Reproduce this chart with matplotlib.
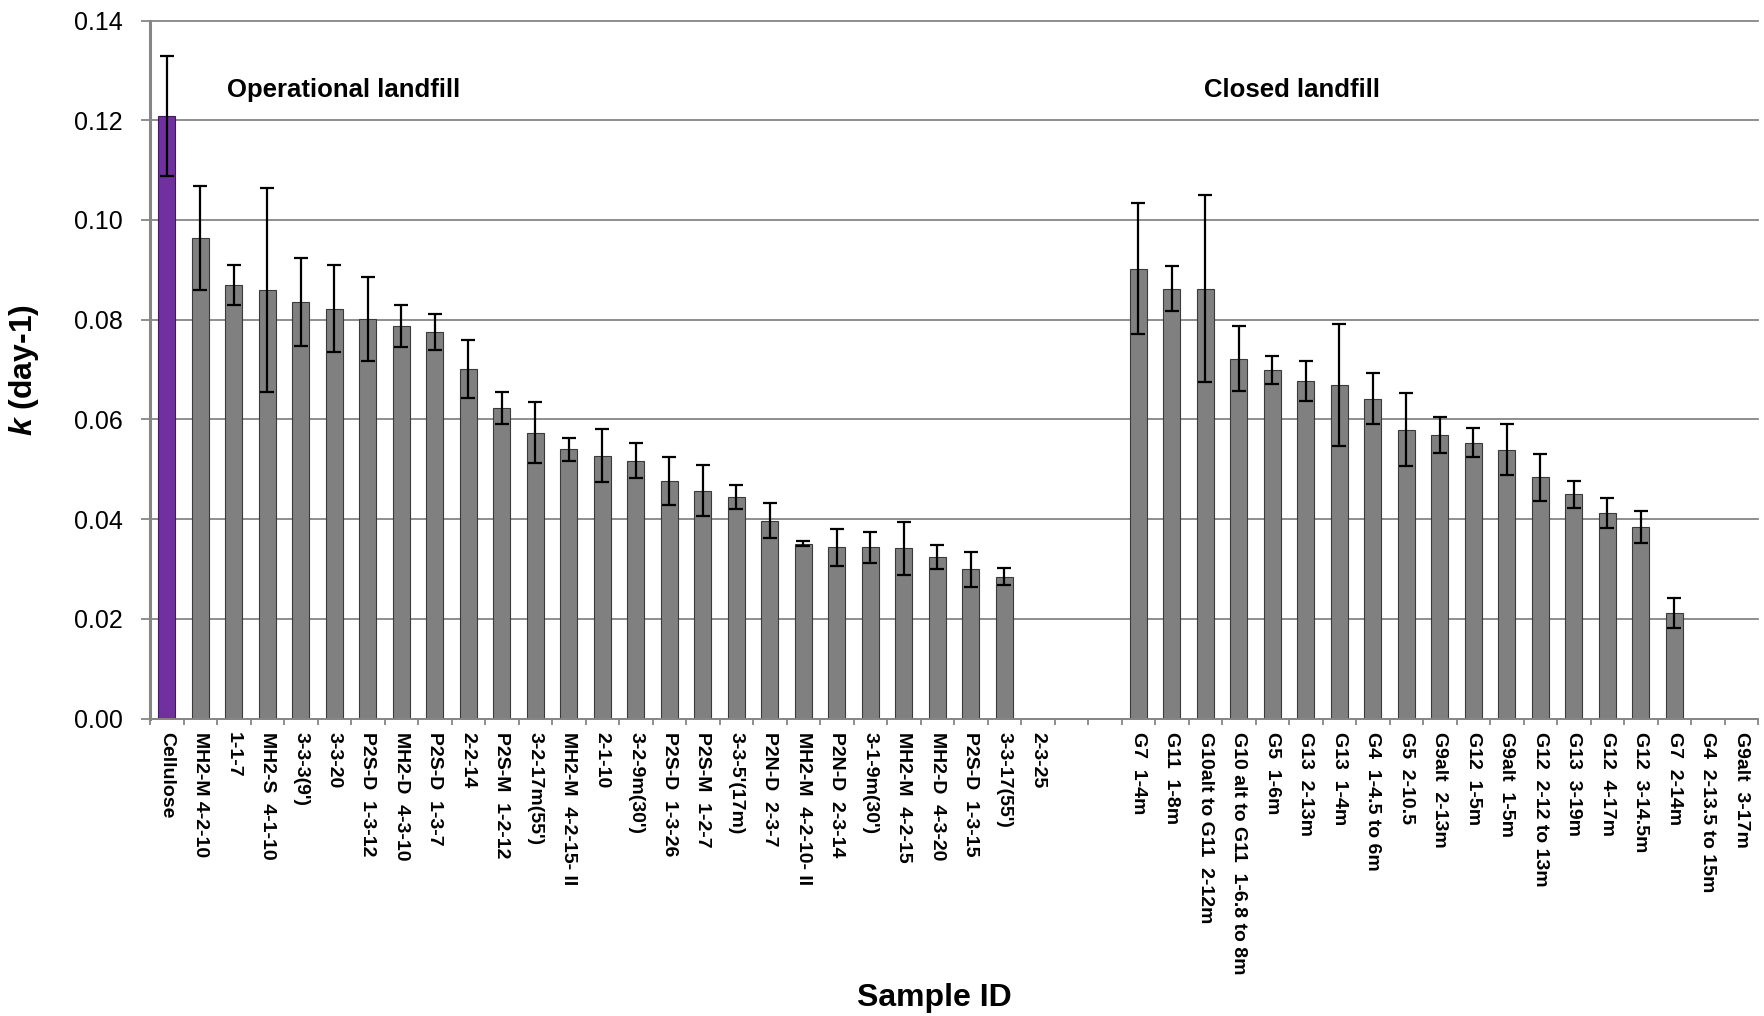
import numpy as np
import matplotlib
matplotlib.use('Agg')
import matplotlib.pyplot as plt

# fonts: Liberation Sans stands in for Calibri
plt.rcParams['font.family'] = ['Liberation Sans', 'DejaVu Sans']
plt.rcParams['mathtext.fontset'] = 'custom'
plt.rcParams['mathtext.it'] = 'Liberation Sans:italic:bold'
plt.rcParams['mathtext.rm'] = 'Liberation Sans:bold'

# operational landfill samples (first one is the cellulose control)
ops_labels = ['Cellulose', 'MH2-M 4-2-10', '1-1-7', 'MH2-S  4-1-10', "3-3-3(9')", '3-3-20',
              'P2S-D  1-3-12', 'MH2-D  4-3-10', 'P2S-D  1-3-7', '2-2-14', 'P2S-M  1-2-12',
              "3-2-17m(55')", 'MH2-M  4-2-15- II', '2-1-10', "3-2-9m(30')", 'P2S-D  1-3-26',
              'P2S-M  1-2-7', "3-3-5'(17m)", 'P2N-D  2-3-7', 'MH2-M  4-2-10- II', 'P2N-D  2-3-14',
              "3-1-9m(30')", 'MH2-M  4-2-15', 'MH2-D  4-3-20', 'P2S-D  1-3-15', "3-3-17(55')",
              '2-3-25']
ops_k = [0.1209, 0.0964, 0.0870, 0.0860, 0.0835, 0.0822, 0.0802, 0.0788, 0.0776, 0.0701,
         0.0623, 0.0573, 0.0540, 0.0527, 0.0517, 0.0477, 0.0457, 0.0445, 0.0397, 0.0351,
         0.0343, 0.0343, 0.0341, 0.0323, 0.0299, 0.0284, np.nan]
ops_err = [0.0120, 0.0105, 0.0040, 0.0205, 0.0088, 0.0087, 0.0084, 0.0042, 0.0036, 0.0058,
           0.0032, 0.0061, 0.0023, 0.0053, 0.0035, 0.0048, 0.0051, 0.0024, 0.0035, 0.0006,
           0.0038, 0.0032, 0.0053, 0.0024, 0.0035, 0.0017, np.nan]

# closed landfill samples
closed_labels = ['G7  1-4m', 'G11  1-8m', 'G10alt to G11  2-12m', 'G10 alt to G11  1-6.8 to 8m',
                 'G5  1-6m', 'G13  2-13m', 'G13  1-4m', 'G4  1-4.5 to 6m', 'G5  2-10.5',
                 'G9alt  2-13m', 'G12  1-5m', 'G9alt  1-5m', 'G12  2-12 to 13m', 'G13  3-19m',
                 'G12  4-17m', 'G12  3-14.5m', 'G7  2-14m', 'G4  2-13.5 to 15m', 'G9alt  3-17m']
closed_k = [0.0902, 0.0862, 0.0862, 0.0722, 0.0699, 0.0677, 0.0669, 0.0641, 0.0579, 0.0568,
            0.0553, 0.0539, 0.0484, 0.0450, 0.0412, 0.0384, 0.0211, np.nan, np.nan]
closed_err = [0.0131, 0.0045, 0.0187, 0.0065, 0.0028, 0.0040, 0.0123, 0.0051, 0.0073, 0.0036,
              0.0029, 0.0051, 0.0047, 0.0027, 0.0030, 0.0032, 0.0030, np.nan, np.nan]

n_gap = 2  # empty categories between the two groups
labels = ops_labels + [''] * n_gap + closed_labels
k = np.array(ops_k + [np.nan] * n_gap + closed_k)
err = np.array(ops_err + [np.nan] * n_gap + closed_err)
x = np.arange(len(labels))

colors = ['#808080'] * len(labels)
colors[0] = '#7030A0'
edges = ['#3a3a3a'] * len(labels)
edges[0] = '#3f1a5c'

GRID = '#868686'

fig = plt.figure(figsize=(17.64, 10.16), dpi=100)
ax = fig.add_axes([150 / 1764, 1 - 718.5 / 1016, 1608 / 1764, 698 / 1016])

ax.bar(x, np.nan_to_num(k), width=0.5, color=colors, edgecolor=edges, linewidth=0.8, zorder=2)
ax.errorbar(x, k, yerr=err, fmt='none', ecolor='black', elinewidth=1.6,
            capsize=4.7, capthick=1.6, zorder=3)

ax.set_xlim(-0.5, len(labels) - 0.5)
ax.set_ylim(0, 0.14)
ax.set_yticks(np.arange(0, 0.141, 0.02))
ax.set_yticklabels(['%.2f' % v for v in np.arange(0, 0.141, 0.02)])
ax.yaxis.grid(True, color=GRID, linewidth=1.3, zorder=0)
ax.set_axisbelow(True)
for gl in ax.get_ygridlines():
    gl.set_clip_on(False)

ax.set_xticks(x)
ax.set_xticklabels(labels, rotation=-90, ha='center', va='top',
                   fontsize=14, fontweight='bold')
ax.set_xticks(np.arange(-0.5, len(labels)), minor=True)
ax.tick_params(axis='x', which='major', length=0, pad=10)
ax.tick_params(axis='x', which='minor', length=4.5, width=1.3, color=GRID, direction='out')
ax.tick_params(axis='y', length=6.5, width=1.3, color=GRID, direction='out',
               labelsize=18, pad=13)

for s in ['top', 'right']:
    ax.spines[s].set_visible(False)
ax.spines['left'].set_color(GRID)
ax.spines['left'].set_linewidth(2.2)
ax.spines['bottom'].set_color(GRID)
ax.spines['bottom'].set_linewidth(1.3)

ax.set_ylabel(r'$k$ (day-1)', fontsize=23, fontweight='bold')
ax.yaxis.set_label_coords(-0.068, 0.5)
fig.text(934 / 1764, 1 - 998 / 1016, 'Sample ID', fontsize=23, fontweight='bold',
         ha='center', va='center')

ax.text(1.8, 0.126, 'Operational landfill', fontsize=18.5, fontweight='bold',
        ha='left', va='center')
ax.text(33.6, 0.126, 'Closed landfill', fontsize=18.5, fontweight='bold',
        ha='center', va='center')

fig.savefig('out.png', dpi=100)
